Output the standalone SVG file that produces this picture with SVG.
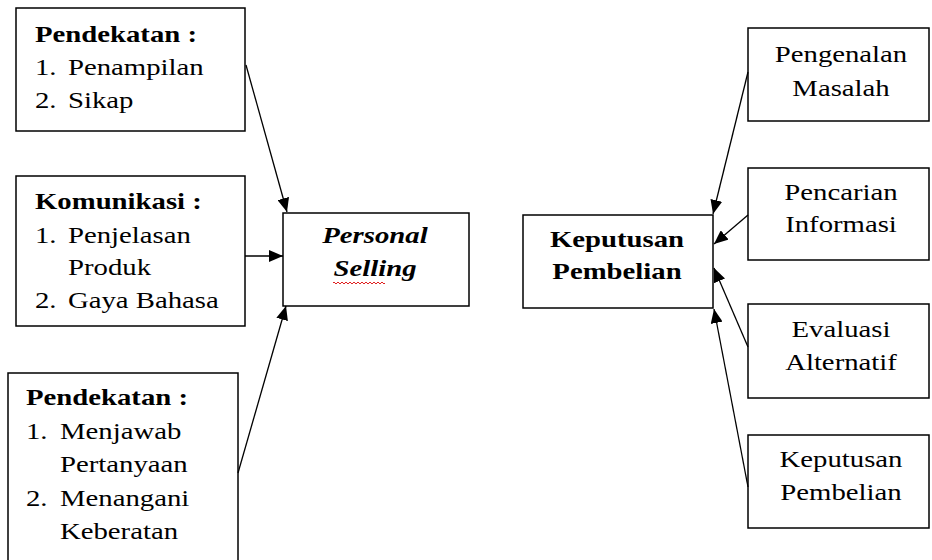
<svg xmlns="http://www.w3.org/2000/svg" width="932" height="560" viewBox="0 0 932 560">
<style>
.box{fill:#fff;stroke:#000;stroke-width:1.5}
text{font-family:"Liberation Serif","Times New Roman",serif;font-size:23px;fill:#000}
.b{font-weight:bold}
.bi{font-weight:bold;font-style:italic}
.c{text-anchor:middle}
.con{stroke:#000;stroke-width:1.3;fill:none;marker-end:url(#ah)}
</style>
<defs>
<marker id="ah" markerUnits="userSpaceOnUse" markerWidth="14" markerHeight="12" viewBox="0 0 14 12" refX="14" refY="6" orient="auto">
<path d="M0,0 L14,6 L0,12 Z" fill="#000"/>
</marker>
</defs>
<rect width="932" height="560" fill="#fff"/>
<g id="n-pendekatan1">
<rect class="box" x="16" y="8" width="229" height="123"/>
<text class="b" transform="translate(35,42) scale(1.25,1)">Pendekatan :</text>
<text transform="translate(35,75) scale(1.25,1)">1.</text>
<text transform="translate(68,75) scale(1.25,1)">Penampilan</text>
<text transform="translate(35,108) scale(1.25,1)">2.</text>
<text transform="translate(68,108) scale(1.25,1)">Sikap</text>
</g>
<g id="n-komunikasi">
<rect class="box" x="16" y="176" width="229" height="150"/>
<text class="b" transform="translate(35,209) scale(1.25,1)">Komunikasi :</text>
<text transform="translate(35,243) scale(1.25,1)">1.</text>
<text transform="translate(68,243) scale(1.25,1)">Penjelasan</text>
<text transform="translate(68,275) scale(1.25,1)">Produk</text>
<text transform="translate(35,308) scale(1.25,1)">2.</text>
<text transform="translate(68,308) scale(1.25,1)">Gaya Bahasa</text>
</g>
<g id="n-pendekatan2">
<rect class="box" x="8" y="373" width="230" height="200"/>
<text class="b" transform="translate(26,405) scale(1.25,1)">Pendekatan :</text>
<text transform="translate(26,439) scale(1.25,1)">1.</text>
<text transform="translate(60,439) scale(1.25,1)">Menjawab</text>
<text transform="translate(60,472) scale(1.25,1)">Pertanyaan</text>
<text transform="translate(26,506) scale(1.25,1)">2.</text>
<text transform="translate(60,506) scale(1.25,1)">Menangani</text>
<text transform="translate(60,539) scale(1.25,1)">Keberatan</text>
</g>
<g id="n-personal-selling">
<rect class="box" x="283" y="213" width="186" height="93"/>
<text class="bi c" transform="translate(375,243) scale(1.25,1)">Personal</text>
<text class="bi c" transform="translate(375,276) scale(1.25,1)">Selling</text>
<path d="M333,283 q1,-2 2,0 t2,0 t2,0 t2,0 t2,0 t2,0 t2,0 t2,0 t2,0 t2,0 t2,0 t2,0 t2,0 t2,0 t2,0 t2,0 t2,0 t2,0 t2,0 t2,0 t2,0 t2,0 t2,0 t2,0 t2,0 t2,0" fill="none" stroke="#e02020" stroke-width="1"/>
</g>
<g id="n-keputusan-pembelian">
<rect class="box" x="523" y="215" width="190" height="93"/>
<text class="b c" transform="translate(617,247) scale(1.25,1)">Keputusan</text>
<text class="b c" transform="translate(617,279) scale(1.25,1)">Pembelian</text>
</g>
<g id="n-pengenalan">
<rect class="box" x="748" y="28" width="181" height="93"/>
<text class="c" transform="translate(841,62) scale(1.25,1)">Pengenalan</text>
<text class="c" transform="translate(841,96) scale(1.25,1)">Masalah</text>
</g>
<g id="n-pencarian">
<rect class="box" x="748" y="168" width="181" height="92"/>
<text class="c" transform="translate(841,200) scale(1.25,1)">Pencarian</text>
<text class="c" transform="translate(841,232) scale(1.25,1)">Informasi</text>
</g>
<g id="n-evaluasi">
<rect class="box" x="748" y="304" width="181" height="94"/>
<text class="c" transform="translate(841,337) scale(1.25,1)">Evaluasi</text>
<text class="c" transform="translate(841,370) scale(1.25,1)">Alternatif</text>
</g>
<g id="n-keputusan">
<rect class="box" x="748" y="435" width="181" height="93"/>
<text class="c" transform="translate(841,467) scale(1.25,1)">Keputusan</text>
<text class="c" transform="translate(841,500) scale(1.25,1)">Pembelian</text>
</g>
<g id="connectors">
<line class="con" x1="246" y1="65" x2="287" y2="212"/>
<line class="con" x1="245" y1="256" x2="283" y2="256"/>
<line class="con" x1="238" y1="473" x2="286" y2="306"/>
<line class="con" x1="748" y1="72" x2="713" y2="214"/>
<line class="con" x1="748" y1="215" x2="714" y2="244"/>
<line class="con" x1="748" y1="347" x2="714" y2="268"/>
<line class="con" x1="748" y1="487" x2="714" y2="309"/>
</g>
</svg>
